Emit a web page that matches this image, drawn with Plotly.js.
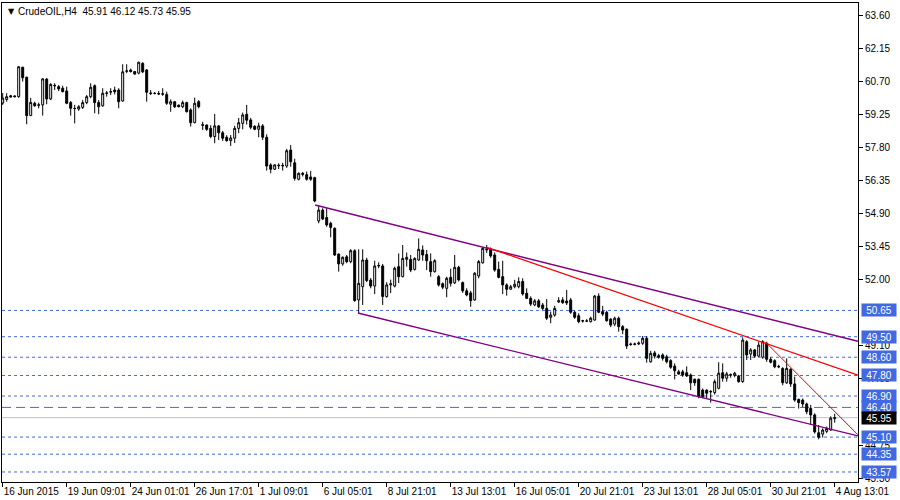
<!DOCTYPE html>
<html>
<head>
<meta charset="utf-8">
<script src="https://cdn.plot.ly/plotly-3.0.1.min.js"></script>
<style>html,body{margin:0;padding:0;background:#fff;}#chart{width:900px;height:500px;}</style>
</head>
<body>
<div id="chart"></div>
<script>
// ---- Data (CrudeOIL, H4) ----
const openP = [59.74,59.90,60.06,60.05,60.02,61.31,60.87,59.19,59.73,59.64,
59.66,60.79,59.92,60.52,60.46,60.39,60.27,59.76,59.51,59.48,
59.55,59.76,60.02,60.50,59.76,59.62,60.16,60.22,60.31,60.31,
59.83,61.13,61.19,61.12,61.05,61.48,61.19,60.18,60.17,60.16,
60.15,60.12,59.69,59.80,59.65,59.58,59.76,59.44,58.88,59.80,
58.79,58.78,58.63,58.27,58.74,58.44,58.24,58.09,58.20,58.63,
58.85,59.25,59.00,58.72,58.59,58.74,58.24,57.03,56.84,56.99,
57.01,56.98,57.68,57.12,56.40,56.66,56.60,56.50,56.47,54.57,
55.05,54.72,54.47,54.25,53.12,52.69,53.00,52.79,53.27,51.11,
51.69,52.86,51.98,51.72,52.60,52.60,51.26,51.77,51.72,52.57,
52.13,52.89,52.89,52.45,52.86,53.30,53.10,52.79,52.35,52.13,
51.82,51.62,52.10,51.86,52.54,51.87,51.51,51.42,51.11,52.16,
52.74,53.30,53.33,53.08,52.45,52.13,51.77,51.58,51.69,51.69,
51.92,51.40,51.18,50.89,51.07,50.89,50.74,50.35,50.45,51.02,
51.11,51.06,51.11,50.57,50.42,50.20,50.18,50.16,50.23,51.28,
50.60,50.57,50.27,50.05,50.31,49.94,49.83,49.18,49.16,49.18,
49.21,49.43,48.40,48.79,48.67,48.70,48.62,48.45,48.21,47.96,
47.96,47.92,47.82,47.63,47.63,47.16,47.16,47.08,47.05,47.24,
47.92,47.68,47.84,47.80,47.78,47.53,49.28,48.74,48.92,48.65,
48.60,49.21,48.51,48.45,48.20,48.11,47.48,48.07,47.43,46.75,
46.72,46.55,46.36,46.07,45.29,45.23,45.35,45.41,45.91];

const highP = [60.18,60.17,60.10,60.09,61.36,61.33,60.90,59.97,59.80,59.76,
60.83,60.83,60.61,60.61,60.53,60.50,60.46,59.83,59.66,59.65,
59.87,60.09,60.61,60.56,59.87,60.39,60.27,60.39,60.46,60.39,
61.44,61.44,61.25,61.15,61.55,61.53,61.23,60.31,60.22,60.27,
60.39,60.24,59.90,59.80,59.67,59.85,59.80,59.51,59.98,59.87,
58.92,58.80,58.77,59.26,58.78,58.52,58.33,58.34,58.74,59.09,
59.32,59.66,59.09,58.77,58.88,58.82,58.37,57.10,57.06,57.10,
57.12,57.73,57.90,57.30,56.70,56.72,56.74,56.76,56.51,55.27,
55.13,55.13,54.54,54.29,53.15,53.02,53.08,53.34,53.33,53.33,
53.33,52.96,52.07,52.83,52.76,52.69,51.89,52.00,52.57,53.15,
53.52,53.19,53.08,52.98,53.81,53.50,53.30,53.15,52.90,52.20,
51.88,52.13,52.48,53.08,52.61,51.92,51.62,51.51,52.33,52.86,
53.41,53.52,53.41,53.19,52.79,52.83,51.84,51.77,51.99,52.10,
52.06,51.62,51.27,51.15,51.15,50.98,51.15,50.60,50.85,51.23,
51.23,51.55,51.20,50.64,50.53,50.24,50.27,50.38,51.33,51.40,
50.85,50.64,50.31,50.38,50.38,50.01,49.86,49.24,49.24,49.29,
49.53,49.53,48.88,48.88,48.75,48.77,48.71,48.51,48.33,48.05,
48.05,48.20,47.89,47.67,47.67,47.23,47.19,47.16,47.63,48.38,
48.33,47.96,47.89,47.96,47.82,49.47,49.35,49.00,48.96,49.28,
49.35,49.28,48.60,48.51,48.27,48.16,48.55,48.12,47.75,46.79,
46.79,46.61,46.51,46.14,45.63,45.48,45.56,46.01,46.12];

const lowP = [59.66,59.80,59.98,59.99,59.97,60.68,58.81,59.18,59.58,59.51,
59.19,59.69,59.87,60.31,60.27,60.21,59.69,59.19,58.85,59.40,
59.48,59.69,59.95,59.29,59.25,59.58,60.02,60.09,60.12,59.51,
59.80,61.05,61.08,60.98,61.00,61.05,59.80,60.09,60.12,60.09,
60.06,59.66,59.36,59.52,59.55,59.52,59.33,58.71,58.85,59.51,
58.56,58.52,58.20,57.98,58.12,58.08,58.05,57.86,57.99,58.42,
58.59,58.80,58.59,58.55,58.24,58.12,56.78,56.66,56.81,56.85,
56.78,56.90,56.95,56.34,56.35,56.52,56.34,56.33,55.39,54.47,
54.61,54.32,53.86,53.04,52.35,52.61,52.72,52.72,51.03,50.52,
50.89,51.89,51.62,51.37,52.50,50.89,51.21,51.41,51.66,51.85,
52.10,52.57,52.33,52.40,52.83,52.83,52.42,52.13,52.31,51.70,
51.58,51.23,51.70,51.81,51.92,51.42,51.27,50.81,51.08,52.06,
52.70,53.17,52.96,52.35,52.06,51.37,51.30,51.56,51.62,51.62,
51.30,51.15,50.84,50.84,50.76,50.67,50.23,50.09,50.38,50.98,
50.94,50.89,50.50,50.28,50.09,50.12,50.14,50.12,50.20,50.53,
50.40,50.16,49.92,49.96,49.72,49.61,48.96,49.10,49.12,49.13,
49.14,48.36,48.36,48.54,48.54,48.45,48.33,48.09,47.63,47.84,
47.74,47.73,47.16,47.35,46.80,46.80,46.80,46.61,46.96,47.19,
47.53,47.53,47.70,47.72,47.48,47.48,48.48,48.48,48.57,48.62,
48.53,48.40,48.33,48.12,48.12,47.37,47.43,47.30,46.65,46.35,
46.41,46.10,45.63,45.25,45.00,45.08,45.27,45.37,45.73];

const closeP = [59.96,60.02,60.01,60.02,61.33,60.85,59.19,59.77,59.62,59.66,
60.80,59.92,60.56,60.50,60.36,60.24,59.73,59.51,59.50,59.58,
59.76,60.02,60.43,59.76,59.58,60.17,60.18,60.24,60.24,59.80,
61.11,61.15,61.12,61.01,61.53,61.11,60.21,60.16,60.16,60.14,
60.13,59.73,59.80,59.58,59.58,59.76,59.36,58.88,59.73,59.58,
58.77,58.59,58.27,58.74,58.44,58.20,58.09,58.21,58.63,58.88,
59.22,58.99,58.68,58.59,58.74,58.24,56.98,56.84,57.03,57.01,
56.99,57.65,57.17,56.44,56.66,56.62,56.40,56.40,55.45,55.05,
54.66,54.40,54.29,53.08,52.69,52.98,52.79,53.27,51.08,51.84,
52.86,51.96,51.72,52.60,52.62,51.26,51.77,51.82,52.50,52.13,
52.93,52.98,52.42,52.93,53.33,53.08,52.83,52.35,52.83,51.77,
51.67,52.06,51.84,52.54,51.99,51.51,51.33,51.08,52.28,52.79,
53.37,53.33,53.04,52.42,52.10,51.77,51.58,51.69,51.80,51.92,
51.37,51.18,50.93,51.07,50.81,50.74,50.31,50.45,50.74,51.08,
50.99,50.98,50.57,50.35,50.16,50.19,50.19,50.31,51.28,50.57,
50.49,50.20,50.01,50.31,49.94,49.79,49.09,49.16,49.18,49.22,
49.43,48.55,48.77,48.65,48.60,48.55,48.40,48.16,48.01,47.86,
47.82,47.78,47.48,47.48,46.87,46.87,47.02,47.10,47.53,47.90,
47.68,47.87,47.82,47.90,47.53,49.35,48.70,48.92,48.65,49.13,
49.28,48.51,48.38,48.18,48.18,47.48,48.11,47.43,46.72,46.61,
46.55,46.21,46.07,45.33,45.09,45.41,45.48,45.93,45.95];

// time-axis labels (every 16th bar)
const timeTickBars = [0,16,32,48,64,80,96,112,128,144,160,176,192,208];
const timeTickLabels = ["16 Jun 2015","19 Jun 09:01","24 Jun 01:01","26 Jun 17:01","1 Jul 09:01",
  "6 Jul 05:01","8 Jul 21:01","13 Jul 13:01","16 Jul 05:01","20 Jul 21:01","23 Jul 13:01",
  "28 Jul 05:01","30 Jul 21:01","4 Aug 13:01"];

// price-axis ticks (those fully hidden behind level labels are omitted)
const priceTicks = [63.60,62.15,60.70,59.25,57.80,56.35,54.90,53.45,52.00,49.10,47.65,44.75,43.30];

// horizontal levels drawn on the chart
const levelLines = [50.65,49.50,48.60,47.80,46.90,46.40,45.10,44.35,43.57];
const bidPrice = 45.95;

// trend lines: [bar index, price]
const upperChannelX = [78.1, 213.8], upperChannelY = [55.27, 49.30];
const lowerChannelX = [88.8, 213.8], lowerChannelY = [50.54, 45.15];
const redLongX = [121.0, 213.8], redLongY = [53.42, 47.81];
const redSteepX = [190.6, 213.8], redSteepY = [49.28, 45.20];

const headerText = "CrudeOIL,H4  45.91 46.12 45.73 45.95";

// ---- build chart ----
const barIndex = openP.map((_, i) => i);
const FONT = "Liberation Sans, Arial, sans-serif";
const LEVEL_BLUE = '#4169e1';

const traces = [
  {
    type: 'candlestick', x: barIndex, open: openP, high: highP, low: lowP, close: closeP,
    increasing: {line: {color: '#000', width: 1}, fillcolor: '#ffffff'},
    decreasing: {line: {color: '#000', width: 1}, fillcolor: '#000000'},
    whiskerwidth: 0, hoverinfo: 'skip', showlegend: false
  },
  {type: 'scatter', mode: 'lines', x: upperChannelX, y: upperChannelY, line: {color: '#800080', width: 1.4}, hoverinfo: 'skip', showlegend: false},
  {type: 'scatter', mode: 'lines', x: lowerChannelX, y: lowerChannelY, line: {color: '#800080', width: 1.4}, hoverinfo: 'skip', showlegend: false},
  {type: 'scatter', mode: 'lines', x: redLongX, y: redLongY, line: {color: '#ff0000', width: 1.3}, hoverinfo: 'skip', showlegend: false},
  {type: 'scatter', mode: 'lines', x: redSteepX, y: redSteepY, line: {color: '#ff0000', width: 1}, hoverinfo: 'skip', showlegend: false}
];

const shapes = [];
const annotations = [];
levelLines.forEach(lv => {
  const longDash = Math.abs(lv - 46.40) < 1e-6;
  shapes.push({type: 'line', xref: 'paper', x0: 0, x1: 1, yref: 'y', y0: lv, y1: lv, layer: 'below',
    line: {color: LEVEL_BLUE, width: 1, dash: longDash ? '9px,5px' : '3px,3px'}});
  annotations.push({xref: 'paper', x: 1, xanchor: 'left', xshift: 3, yref: 'y', y: lv, yanchor: 'middle',
    text: lv.toFixed(2), showarrow: false, bgcolor: LEVEL_BLUE, width: 34, height: 12, borderpad: 0,
    font: {family: FONT, size: 10, color: '#ffffff'}});
});
shapes.push({type: 'line', xref: 'paper', x0: 0, x1: 1, yref: 'y', y0: bidPrice, y1: bidPrice, layer: 'below',
  line: {color: '#c0c0c0', width: 1}});
annotations.push({xref: 'paper', x: 1, xanchor: 'left', xshift: 3, yref: 'y', y: bidPrice, yanchor: 'middle',
  text: bidPrice.toFixed(2), showarrow: false, bgcolor: '#000000', width: 34, height: 12, borderpad: 0,
  font: {family: FONT, size: 10, color: '#ffffff'}});
annotations.push({xref: 'paper', x: 0, xanchor: 'left', xshift: 4, yref: 'paper', y: 1, yanchor: 'middle', yshift: -8,
  text: '▼', showarrow: false, font: {family: 'DejaVu Sans', size: 8, color: '#000'}});
annotations.push({xref: 'paper', x: 0, xanchor: 'left', xshift: 14, yref: 'paper', y: 1, yanchor: 'middle', yshift: -8,
  text: headerText, showarrow: false, font: {family: FONT, size: 10, color: '#000'}});

const layout = {
  width: 900, height: 500,
  margin: {l: 2, r: 42, t: 3, b: 18, pad: 0},
  paper_bgcolor: '#ffffff', plot_bgcolor: '#ffffff',
  showlegend: false,
  font: {family: FONT, size: 10, color: '#000'},
  xaxis: {
    type: 'linear', range: [-0.175, 213.825], rangeslider: {visible: false},
    showgrid: false, zeroline: false, showline: true, mirror: true, linecolor: '#000', linewidth: 1,
    ticks: 'outside', ticklen: 4, tickcolor: '#000', tickwidth: 1,
    tickvals: timeTickBars, ticktext: timeTickLabels, ticklabelposition: 'outside right',
    tickangle: 0, automargin: false,
    tickfont: {family: FONT, size: 10, color: '#000'}, fixedrange: true
  },
  yaxis: {
    side: 'right', range: [43.131, 64.126], automargin: false,
    showgrid: false, zeroline: false, showline: true, mirror: true, linecolor: '#000', linewidth: 1,
    ticks: 'outside', ticklen: 4, tickcolor: '#000', tickwidth: 1,
    tickvals: priceTicks, ticktext: priceTicks.map(v => v.toFixed(2)),
    tickfont: {family: FONT, size: 10, color: '#000'}, fixedrange: true
  },
  shapes: shapes,
  annotations: annotations
};

Plotly.newPlot('chart', traces, layout, {staticPlot: true, displayModeBar: false});
</script>
</body>
</html>
